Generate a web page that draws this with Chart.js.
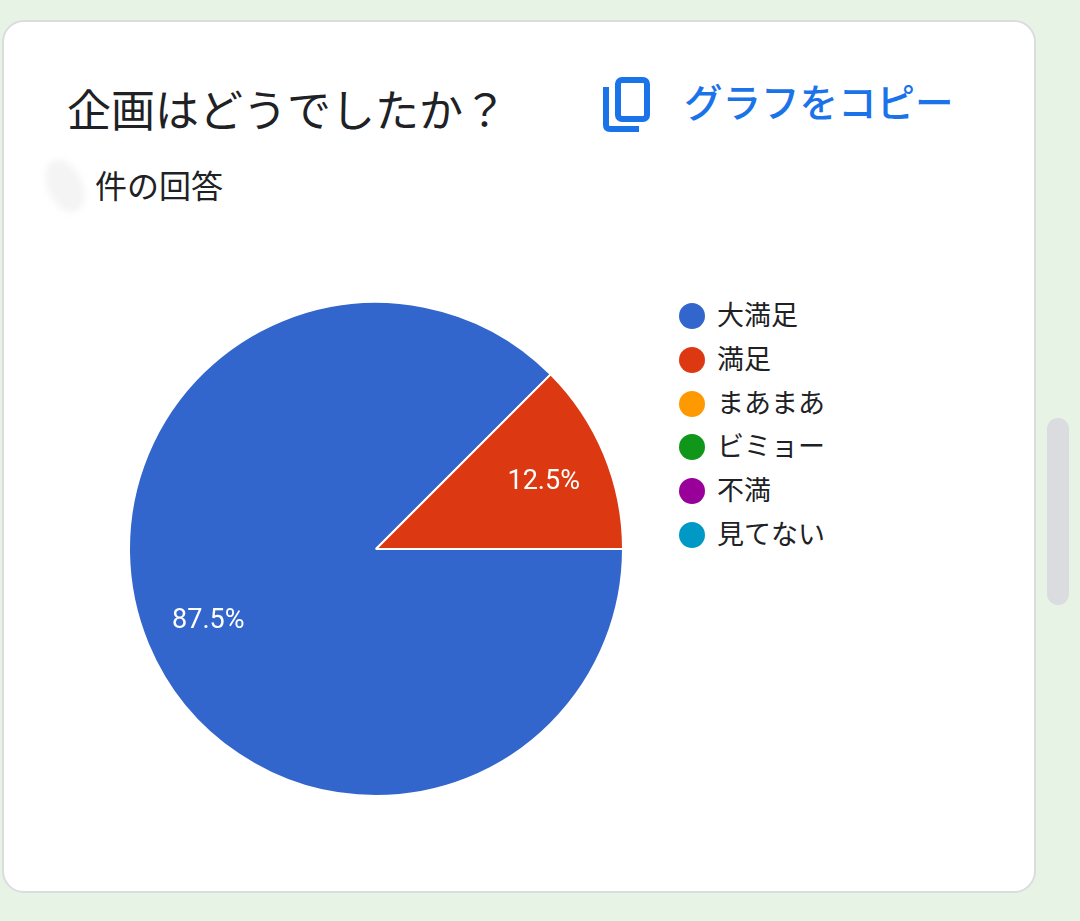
<!DOCTYPE html>
<html>
<head>
<meta charset="utf-8">
<script src="https://cdn.jsdelivr.net/npm/chart.js@4.4.1/dist/chart.umd.min.js"></script>
<style>
  html, body { margin:0; padding:0; width:1080px; height:921px; overflow:hidden; background:#e7f3e5; font-family: Roboto, "Noto Sans CJK JP", sans-serif; }
  #card { position:absolute; left:2px; top:20px; width:1030px; height:869px; background:#fff; border:2px solid #dadce0; border-radius:22px; }
  #title { position:absolute; left:67px; top:80px; font-size:44px; line-height:56px; color:#202124; font-family:"Noto Sans CJK JP", sans-serif; white-space:nowrap; }
  #count { position:absolute; left:95px; top:164px; font-size:32px; line-height:40px; color:#202124; font-family:"Noto Sans CJK JP", sans-serif; white-space:nowrap; }
  #blob { position:absolute; left:48px; top:158px; width:34px; height:56px; background:#f4f4f4; border-radius:50%; transform:rotate(-25deg); filter:blur(3px); }
  #copy { position:absolute; left:684px; top:75px; font-size:38.5px; line-height:50px; color:#1a73e8; font-weight:500; font-family:"Noto Sans CJK JP", sans-serif; white-space:nowrap; }
  #icon { position:absolute; left:0; top:0; }
  #scroll { position:absolute; left:1047px; top:418px; width:22px; height:187px; background:#dadce0; border-radius:11px; }
  #wrap { position:absolute; left:128px; top:301px; width:496px; height:496px; }
  #legend { position:absolute; left:679px; top:294px; }
  .li { position:absolute; left:0; height:44px; white-space:nowrap; }
  .dot { position:absolute; left:0; top:9px; width:26px; height:26px; border-radius:50%; }
  .lt { position:absolute; left:38px; top:0; font-size:27px; line-height:44px; color:#202124; font-family:Roboto, "Noto Sans CJK JP", sans-serif; }
</style>
</head>
<body>
<div id="card"></div>
<div id="title">企画はどうでしたか？</div>
<div id="blob"></div>
<div id="count">件の回答</div>
<svg id="icon" width="1080" height="200">
  <rect x="618" y="80" width="29" height="39" rx="4" ry="4" fill="none" stroke="#1a73e8" stroke-width="6"/>
  <path d="M606 87 V125 Q606 129 610 129 H639" fill="none" stroke="#1a73e8" stroke-width="6"/>
</svg>
<div id="copy">グラフをコピー</div>
<div id="scroll"></div>
<div id="wrap"><canvas id="c"></canvas></div>
<div id="legend"></div>
<script>
const categories = ["大満足", "満足", "まあまあ", "ビミョー", "不満", "見てない"];
const percentValues = [87.5, 12.5, 0, 0, 0, 0];
const sliceColors = ["#3366cc", "#dc3912", "#ff9900", "#109618", "#990099", "#0099c6"];

const sliceLabels = {
  id: 'sliceLabels',
  afterDatasetsDraw(chart) {
    const ctx = chart.ctx;
    const meta = chart.getDatasetMeta(0);
    const data = chart.data.datasets[0].data;
    ctx.save();
    ctx.fillStyle = '#ffffff';
    ctx.font = '27px Roboto, sans-serif';
    ctx.textAlign = 'center';
    ctx.textBaseline = 'middle';
    meta.data.forEach((arc, i) => {
      if (!data[i]) return;
      const p = arc.getProps(['x','y','startAngle','endAngle','outerRadius'], true);
      const mid = (p.startAngle + p.endAngle) / 2;
      const r = p.outerRadius * 0.735;
      ctx.fillText(data[i].toFixed(1) + '%', p.x + Math.cos(mid) * r, p.y + Math.sin(mid) * r + 3);
    });
    ctx.restore();
  }
};

const chart = new Chart(document.getElementById('c'), {
  type: 'pie',
  data: {
    labels: categories,
    datasets: [{ data: percentValues, backgroundColor: sliceColors, borderColor: '#ffffff', borderWidth: 2 }]
  },
  options: {
    responsive: true,
    maintainAspectRatio: false,
    animation: false,
    events: [],
    rotation: 90,
    layout: { padding: 0 },
    plugins: { legend: { display: false }, tooltip: { enabled: false } }
  },
  plugins: [sliceLabels]
});

const legendEl = document.getElementById('legend');
chart.options.plugins.legend.labels.generateLabels(chart).forEach((item, i) => {
  const row = document.createElement('div');
  row.className = 'li';
  row.style.top = (i * 43.8) + 'px';
  const dot = document.createElement('div');
  dot.className = 'dot';
  dot.style.background = sliceColors[item.index];
  const t = document.createElement('div');
  t.className = 'lt';
  t.textContent = item.text;
  row.appendChild(dot); row.appendChild(t);
  legendEl.appendChild(row);
});
</script>
</body>
</html>
